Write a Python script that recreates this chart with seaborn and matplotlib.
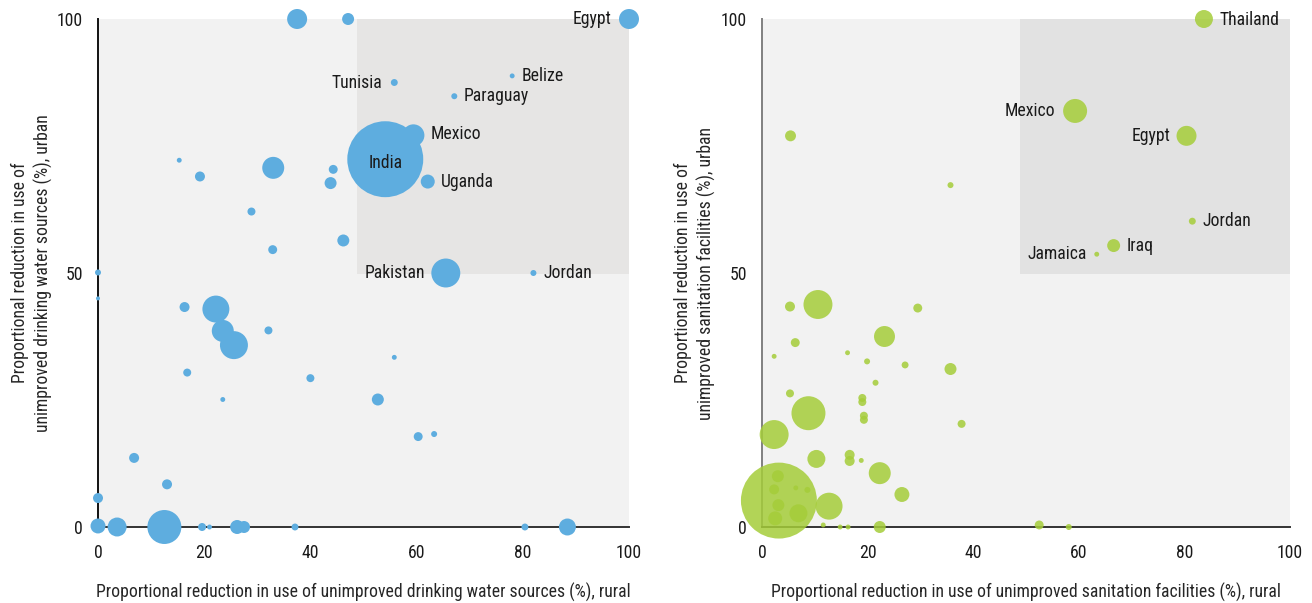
import matplotlib
matplotlib.use("Agg")
import matplotlib.pyplot as plt
import matplotlib.patches as mpatches
from matplotlib import font_manager
import seaborn as sns
import pandas as pd

# ---------------- data: drinking water (left) ----------------
water_rural = [37.5, 47.1, 100.0, 55.8, 78.0, 67.1, 59.4, 54.1, 62.1, 65.5, 82.0,
               15.3, 19.2, 33.0, 44.3, 43.8, 28.9, 46.2, 32.9, 0.0, 0.0,
               16.3, 22.2, 23.5, 25.6, 32.1, 16.8, 40.0, 23.5, 6.8, 13.0,
               0.0, 0.0, 3.6, 12.5, 19.6, 21.0, 26.2, 27.5, 37.1,
               55.8, 52.7, 60.3, 63.3, 80.4, 88.4]
water_urban = [100.0, 100.0, 100.0, 87.5, 88.8, 84.8, 77.1, 72.4, 68.0, 50.0, 50.0,
               72.2, 69.0, 70.7, 70.4, 67.7, 62.1, 56.4, 54.6, 50.1, 45.0,
               43.3, 42.9, 38.6, 35.8, 38.7, 30.4, 29.3, 25.1, 13.6, 8.4,
               5.7, 0.2, 0.0, 0.0, 0.0, 0.0, 0.0, 0.0, 0.0,
               33.4, 25.1, 17.8, 18.3, 0.0, 0.0]
water_weight = [100, 36, 100, 12, 6, 9, 121, 1444, 49, 210, 9,
                6, 25, 121, 20, 36, 16, 36, 20, 9, 4,
                25, 182, 121, 196, 16, 16, 16, 6, 25, 25,
                25, 56, 90, 289, 16, 6, 49, 36, 12,
                6, 36, 20, 9, 12, 72]
water_names = ["", "", "Egypt", "Tunisia", "Belize", "Paraguay", "Mexico", "India",
               "Uganda", "Pakistan", "Jordan"] + [""] * 35

# ---------------- data: sanitation (right) ----------------
san_rural = [83.7, 59.3, 80.4, 81.5, 66.6, 63.4, 5.4, 35.7, 5.3, 10.6, 29.5,
             6.3, 23.2, 2.3, 16.2, 19.9, 27.1, 35.7, 21.5, 5.3, 19.0, 19.0,
             19.3, 19.3, 8.8, 37.8, 2.3, 10.3, 16.6, 16.6, 18.8, 22.3, 26.5,
             3.2, 12.7, 11.6, 14.8, 16.3, 22.3, 52.5, 58.1,
             3.0, 2.3, 6.4, 8.6, 3.1, 6.9, 2.5]
san_urban = [100.0, 81.9, 77.0, 60.2, 55.4, 53.7, 77.0, 67.3, 43.4, 43.8, 43.1,
             36.3, 37.5, 33.6, 34.3, 32.6, 31.9, 31.1, 28.4, 26.3, 24.6, 25.4,
             21.1, 21.9, 22.4, 20.3, 18.2, 13.4, 13.0, 14.2, 13.1, 10.6, 6.4,
             5.2, 4.1, 0.4, 0.0, 0.0, 0.0, 0.4, 0.0,
             10.0, 7.4, 7.7, 7.3, 4.3, 2.7, 1.7]
san_weight = [81, 144, 100, 12, 42, 6, 30, 9, 25, 210, 20,
              20, 110, 6, 6, 9, 12, 36, 9, 16, 16, 16,
              16, 16, 289, 16, 210, 81, 25, 25, 6, 121, 56,
              1444, 182, 6, 6, 6, 36, 20, 9,
              36, 25, 6, 9, 36, 81, 49]
san_names = ["Thailand", "Mexico", "Egypt", "Jordan", "Iraq", "Jamaica"] + [""] * 42

# label placement: (ha, dx points, dy points)
water_label_pos = {"Egypt": ("right", -12.5, 0), "Tunisia": ("right", -8.4, 0),
                   "Belize": ("left", 6.5, 0), "Paraguay": ("left", 6.5, 0),
                   "Mexico": ("left", 12.5, 1), "India": ("center", 0, -2.5),
                   "Uganda": ("left", 9.5, 0), "Pakistan": ("right", -15, 0),
                   "Jordan": ("left", 7, 0)}
san_label_pos = {"Thailand": ("left", 11, -1), "Mexico": ("right", -14, 0),
                 "Egypt": ("right", -11.5, 0), "Jordan": ("left", 7, 0),
                 "Iraq": ("left", 9.5, 0), "Jamaica": ("right", -7, 0)}

BLUE = "#5eaddf"
GREEN = "#a5cd39"

sns.set_theme(style="white")

# pick a condensed sans-serif face if one is installed
entries = font_manager.fontManager.ttflist
main_font, stretch, fsize = "Liberation Sans", "normal", 11.3
for fam in ["Roboto Condensed", "Liberation Sans Narrow", "Open Sans Condensed",
            "Noto Sans Condensed"]:
    if any(e.name == fam for e in entries):
        main_font, stretch, fsize = fam, "normal", 12.7
        break
else:
    for fam in ["Roboto", "Noto Sans", "Open Sans", "DejaVu Sans", "Inter", "Lato"]:
        if any(e.name == fam and str(e.stretch) in ("condensed", "semi-condensed", "75", "87.5")
               for e in entries):
            main_font, stretch, fsize = fam, "condensed", 12.2
            break

plt.rcParams["font.family"] = [main_font, "DejaVu Sans"]
plt.rcParams["font.stretch"] = stretch
plt.rcParams["text.color"] = "#1a1a1a"

fig = plt.figure(figsize=(13.12, 6.03), dpi=100)
ax1 = fig.add_axes([98 / 1312, 76 / 603, 531 / 1312, 508 / 603])
ax2 = fig.add_axes([762 / 1312, 76 / 603, 528 / 1312, 508 / 603])


def draw(ax, rural, urban, weight, names, color, alpha, shade, spine_left, label_pos,
         xlabel, ylabel, ylab_x):
    df = pd.DataFrame({"rural": rural, "urban": urban, "w": weight, "name": names})
    ax.set_facecolor("#f2f2f2")
    ax.add_patch(mpatches.Rectangle((48.8, 49.8), 51.2, 50.2, facecolor=shade,
                                    edgecolor="none", zorder=0.5))
    wmax = max(weight)
    sns.scatterplot(data=df, x="rural", y="urban", size="w",
                    sizes=(0, 2.07 * wmax), size_norm=(0, wmax),
                    color=color, alpha=alpha, linewidth=0, legend=False,
                    ax=ax, clip_on=False, zorder=3)
    for c in ax.collections:
        c.set_clip_on(False)
    for _, r in df.iterrows():
        if r["name"] in label_pos:
            ha, dx, dy = label_pos[r["name"]]
            ax.annotate(r["name"], (r["rural"], r["urban"]), xytext=(dx, dy),
                        textcoords="offset points", ha=ha, va="center",
                        fontsize=fsize, color="#1a1a1a", zorder=5)
    ax.set_xlim(0, 100)
    ax.set_ylim(0, 100)
    ax.set_xticks([0, 20, 40, 60, 80, 100])
    ax.set_yticks([0, 50, 100])
    ax.tick_params(axis="both", length=0, labelsize=fsize, colors="#1a1a1a")
    ax.tick_params(axis="x", pad=12)
    ax.tick_params(axis="y", pad=11)
    for s in ["top", "right"]:
        ax.spines[s].set_visible(False)
    ax.spines["left"].set_color(spine_left)
    ax.spines["left"].set_linewidth(1.4)
    ax.spines["bottom"].set_color("#333333")
    ax.spines["bottom"].set_linewidth(1.4)
    ax.set_xlabel(xlabel, fontsize=fsize, labelpad=15)
    ax.set_ylabel(ylabel, fontsize=fsize, linespacing=1.3)
    ax.yaxis.set_label_coords(ylab_x, 0.5)


draw(ax1, water_rural, water_urban, water_weight, water_names, BLUE, 1.0, "#e6e5e4",
     "#111111", water_label_pos,
     "Proportional reduction in use of unimproved drinking water sources (%), rural",
     "Proportional reduction in use of\nunimproved drinking water sources (%), urban",
     -0.085)
draw(ax2, san_rural, san_urban, san_weight, san_names, GREEN, 0.85, "#e2e2e2",
     "#808080", san_label_pos,
     "Proportional reduction in use of unimproved sanitation facilities (%), rural",
     "Proportional reduction in use of\nunimproved sanitation facilities (%), urban",
     -0.0875)

fig.savefig("out.png", dpi=100)
